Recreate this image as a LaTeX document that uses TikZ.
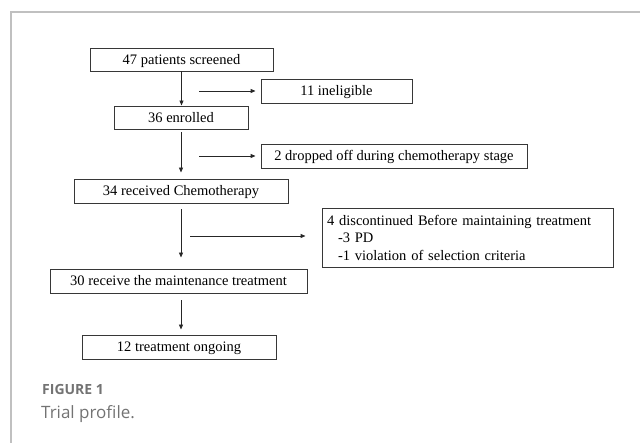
\documentclass[tikz,border=0pt]{standalone}
\usepackage{fontspec}
\setmainfont{Liberation Serif}
\newfontfamily\capfont{Open Sans}
\usetikzlibrary{arrows.meta}
\definecolor{framegray}{RGB}{192,192,192}
\definecolor{boxline}{RGB}{55,55,55}
\definecolor{capgray}{RGB}{115,115,115}
\tikzset{
  flowbox/.style={draw=boxline, line width=0.9pt, inner sep=0pt,
    font=\fontsize{14.5}{17.5}\selectfont, text=black, text height=12.5pt, text depth=2.5pt},
  notebox/.style={draw=boxline, line width=0.9pt, inner xsep=5pt, inner ysep=0pt,
    font=\fontsize{14.5}{17.5}\selectfont, text=black, align=left},
  arr/.style={draw=black!85, line width=0.9pt, -{Triangle[length=5pt,width=4pt]}},
  frameline/.style={draw=framegray, line width=1.2pt},
}
\begin{document}
\begin{tikzpicture}[x=1pt,y=-1pt]
\useasboundingbox (0,0) rectangle (640,443);
\draw[frameline] (640,12) -- (11,12) -- (11,443);

\node[flowbox, minimum width=183pt, minimum height=23pt] (scr) at (181.5,59.5) {47 patients screened};
\node[flowbox, minimum width=151pt, minimum height=24pt] (inel) at (336.5,91) {11 ineligible};
\node[flowbox, minimum width=134pt, minimum height=23pt] (enr) at (181,117.5) {36 enrolled};
\node[flowbox, minimum width=266pt, minimum height=24pt] (drop) at (394,156) {2 dropped off during chemotherapy stage};
\node[flowbox, minimum width=214pt, minimum height=24pt] (chemo) at (181,191) {34 received Chemotherapy};
\node[notebox, minimum width=291pt, minimum height=59pt, text width=281pt] (disc) at (467.5,237.5)
  {4 discontinued Before maintaining treatment\\\hspace*{11pt}-3 PD\\\hspace*{11pt}-1 violation of selection criteria};
\node[flowbox, minimum width=257pt, minimum height=24pt] (maint) at (178.5,281) {30 receive the maintenance treatment};
\node[flowbox, minimum width=194pt, minimum height=24pt] (ongo) at (179,347) {12 treatment ongoing};

\draw[arr] (scr.south) -- (scr.south |- enr.north);
\draw[arr, shorten <=3pt, shorten >=6pt] (enr.south) -- (enr.south |- chemo.north);
\draw[arr, shorten <=6pt, shorten >=11pt] (chemo.south) -- (chemo.south |- maint.north);
\draw[arr, shorten <=7pt, shorten >=5pt] (chemo.south |- maint.south) -- (chemo.south |- ongo.north);

\coordinate (h1) at (199,91);
\coordinate (h2) at (199,156);
\coordinate (h3) at (190,236);
\draw[arr, shorten >=5pt] (h1) -- (h1 -| inel.west);
\draw[arr, shorten >=5pt] (h2) -- (h2 -| drop.west);
\draw[arr, shorten >=16pt] (h3) -- (h3 -| disc.west);

\node[anchor=base west, inner sep=0pt, text=capgray, font=\capfont\bfseries\fontsize{14}{16}\selectfont] (fig) at (42,395) {FIGURE 1};
\node[anchor=base west, inner sep=0pt, text=capgray, font=\capfont\fontsize{17}{20}\selectfont] (cap) at (41,419) {Trial profile.};
\end{tikzpicture}
\end{document}
